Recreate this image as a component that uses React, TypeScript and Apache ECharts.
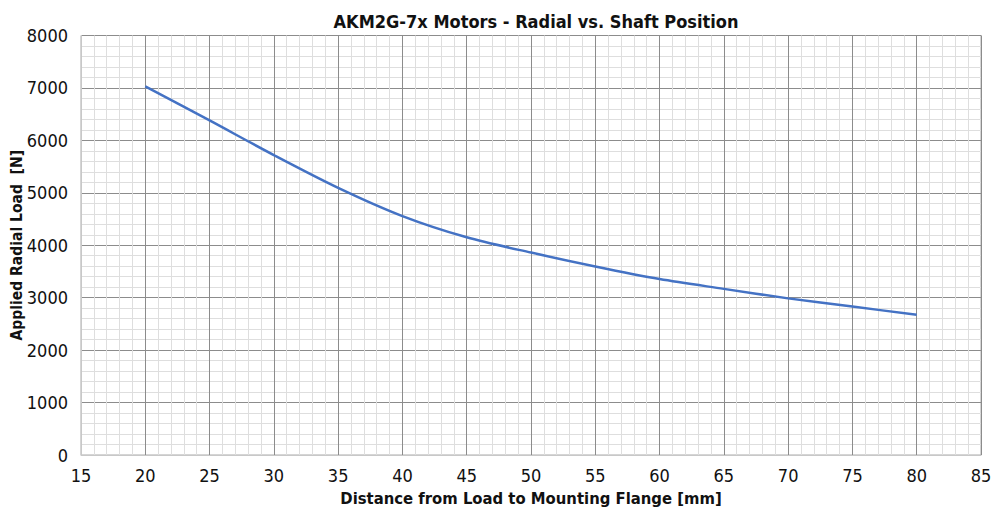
import React, { useEffect, useRef } from "react";
import * as echarts from "echarts";

const distances = [20, 25, 30, 35, 40, 45, 50, 55, 60, 65, 70, 75, 80];
const radialLoad = [7030, 6380, 5720, 5095, 4557, 4152, 3860, 3595, 3355, 3168, 2987, 2830, 2675];
const titleText = "AKM2G-7x Motors - Radial vs. Shaft Position";
const xName = "Distance from Load to Mounting Flange [mm]";
const yName = "Applied Radial Load  [N]";

const FONT = "'Liberation Sans Narrow', 'DejaVu Sans Condensed', 'Roboto', sans-serif";

export default function App() {
  const ref = useRef<HTMLDivElement>(null);
  useEffect(() => {
    if (!ref.current) return;
    const chart = echarts.init(ref.current, undefined, { renderer: "svg" });
    chart.setOption({
      animation: false,
      backgroundColor: "#ffffff",
      title: {
        text: titleText,
        left: 531,
        textAlign: "center",
        top: 7,
        textStyle: { fontFamily: FONT, fontSize: 18, fontWeight: "bold", color: "#111" },
      },
      grid: {
        left: 81, right: 14, top: 35.5, bottom: 56,
        containLabel: false, outerBoundsMode: "none",
        show: true, borderColor: "#aaa", borderWidth: 1,
      },
      xAxis: {
        type: "value",
        min: 15,
        max: 85,
        interval: 5,
        name: xName,
        nameLocation: "middle",
        nameGap: 35,
        nameMoveOverlap: false,
        nameTextStyle: { fontFamily: FONT, fontSize: 16.5, fontWeight: "bold", color: "#111" },
        axisLine: { show: true, lineStyle: { color: "#c8c8c8" } },
        axisTick: { show: false },
        axisLabel: { fontFamily: FONT, fontSize: 18, color: "#111", margin: 11 },
        splitLine: { show: true, lineStyle: { color: "#8c8c8c", width: 1 } },
        minorTick: { show: false, splitNumber: 5 },
        minorSplitLine: { show: true, lineStyle: { color: "#dedede", width: 1 } },
      },
      yAxis: {
        type: "value",
        min: 0,
        max: 8000,
        interval: 1000,
        name: yName,
        nameLocation: "middle",
        nameGap: 56,
        nameRotate: 90,
        nameMoveOverlap: false,
        nameTextStyle: { fontFamily: FONT, fontSize: 15.5, fontWeight: "bold", color: "#111" },
        axisLine: { show: true, lineStyle: { color: "#c8c8c8" } },
        axisTick: { show: false },
        axisLabel: { fontFamily: FONT, fontSize: 18, color: "#111", margin: 13, formatter: (v: number) => String(v) },
        splitLine: { show: true, lineStyle: { color: "#8c8c8c", width: 1 } },
        minorTick: { show: false, splitNumber: 5 },
        minorSplitLine: { show: true, lineStyle: { color: "#dedede", width: 1 } },
      },
      series: [
        {
          type: "line",
          data: distances.map((d, i) => [d, radialLoad[i]]),
          smooth: 0.3,
          showSymbol: false,
          symbol: "none",
          lineStyle: { color: "#4472C4", width: 2.5 },
        },
      ],
    });
    return () => chart.dispose();
  }, []);
  return <div ref={ref} style={{ width: 995, height: 511, position: "absolute", left: 0, top: 0 }} />;
}
